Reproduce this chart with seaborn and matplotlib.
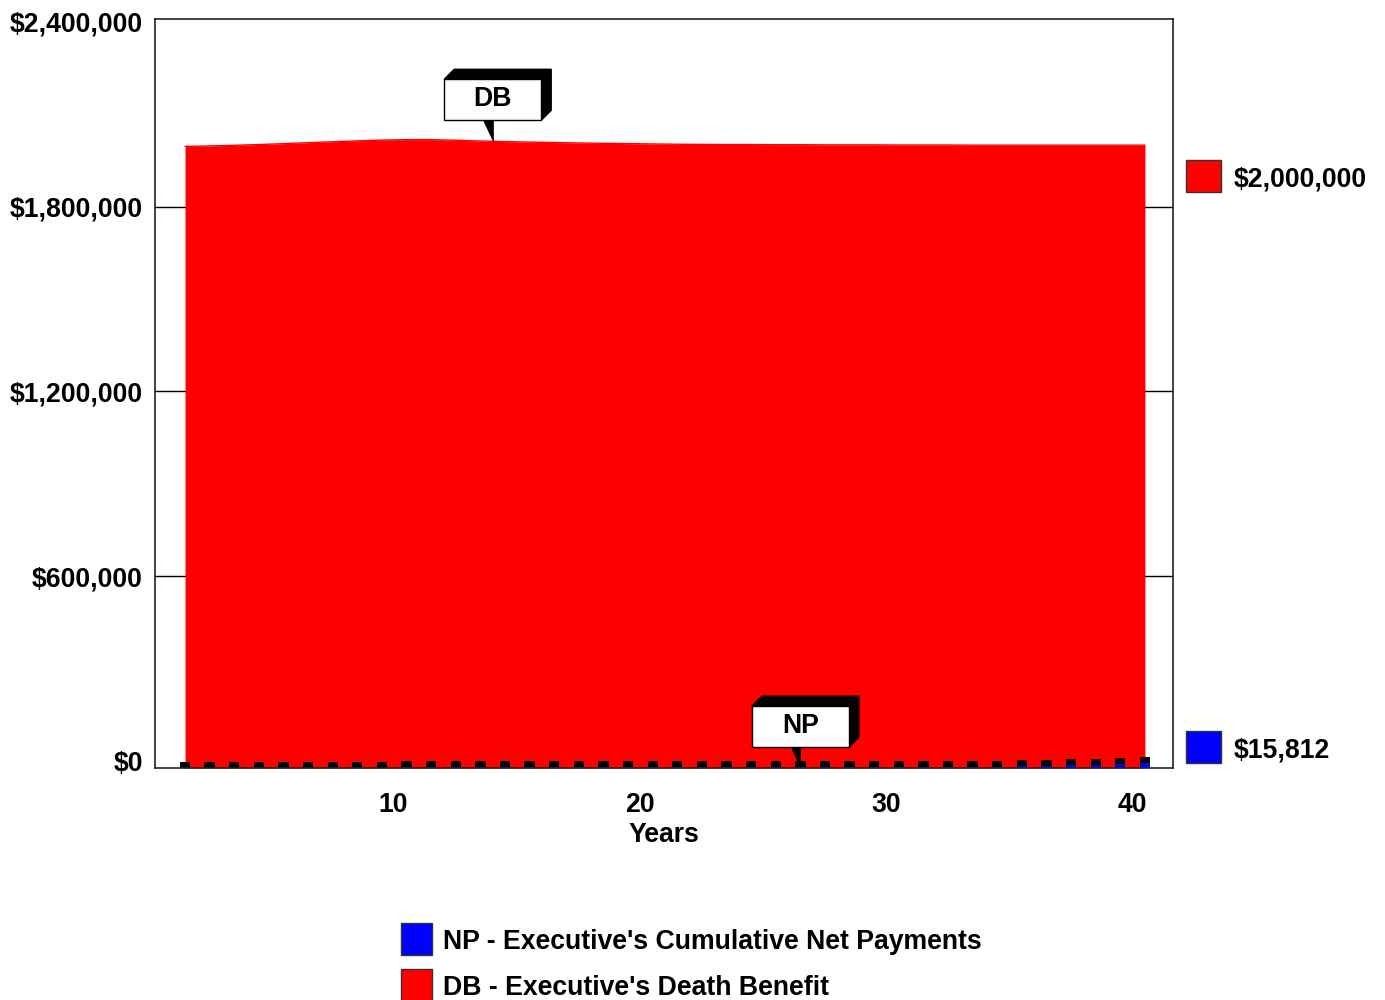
import matplotlib
matplotlib.use("Agg")
import matplotlib.pyplot as plt
import pandas as pd
import seaborn as sns
from matplotlib.patches import Polygon, Rectangle
from matplotlib.transforms import ScaledTranslation

# ---- data -------------------------------------------------------------
years = list(range(1, 41))

db_values = [
    1996000, 1997500, 1999500, 2002000, 2005000, 2008000, 2011000, 2014000,
    2016500, 2018000, 2018000, 2016000, 2013500, 2011500, 2010000, 2008500,
    2007000, 2006000, 2005000, 2004000, 2003000, 2002500, 2002000, 2002000,
    2001500, 2001500, 2001000, 2001000, 2001000, 2000500, 2000500, 2000500,
    2000000, 2000000, 2000000, 2000000, 2000000, 2000000, 2000000, 2000000,
]

np_values = [
    300, 550, 800, 1000, 1150, 1300, 1400, 1500, 1600, 1700,
    1750, 1800, 1850, 1900, 1950, 2000, 2050, 2100, 2150, 2200,
    2250, 2300, 2350, 2400, 2450, 2500, 2600, 2700, 2850, 3000,
    3250, 3600, 4100, 4800, 5700, 6900, 8400, 10300, 12800, 15812,
]

y_ticks = [0, 600000, 1200000, 1800000, 2400000]
x_ticks = [10, 20, 30, 40]
legend_labels = ["NP - Executive's Cumulative Net Payments",
                 "DB - Executive's Death Benefit"]
end_labels = ["$2,000,000", "$15,812"]
callout_years = {"DB": 13.5, "NP": 26}

# ---- style ------------------------------------------------------------
sns.set_theme(style="white")
plt.rcParams["font.family"] = ["Liberation Sans", "DejaVu Sans"]
plt.rcParams["font.weight"] = "bold"
plt.rcParams["text.color"] = "black"
plt.rcParams["xtick.color"] = "black"
plt.rcParams["ytick.color"] = "black"

RED = "#ff0000"
BLUE = "#0000ff"
FS = 19.2
W, H = 1385, 1000

fig = plt.figure(figsize=(W / 100, H / 100), dpi=100)
ax = fig.add_axes([155 / W, 1 - 768 / H, (1173 - 155) / W, (768 - 19) / H])

Y_FLOOR, Y_TOP = -22700, 2409700
ax.set_xlim(-0.22, 41.14)
ax.set_ylim(Y_FLOOR, Y_TOP)
units_per_px = (Y_TOP - Y_FLOOR) / (768 - 19)

df = pd.DataFrame({"Year": years, "DB": db_values, "NP": np_values})

# horizontal grid on the back wall
for t in y_ticks[1:-1]:
    ax.axhline(t, color="black", lw=1, zorder=1)

# death benefit area
ax.fill_between(df["Year"], df["DB"], Y_FLOOR, color=RED, lw=0, zorder=2)
sns.lineplot(data=df, x="Year", y="DB", color=RED, lw=1, ax=ax, zorder=3,
             legend=False)

# net payment bars with a dark 3D cap
cap = 6 * units_per_px
ax.bar(df["Year"], df["NP"], bottom=Y_FLOOR, width=0.42, color=BLUE,
       lw=0, zorder=4)
ax.bar(df["Year"], [cap] * len(df), bottom=Y_FLOOR + df["NP"], width=0.42,
       color="black", lw=0, zorder=4)

# axes cosmetics
ax.set_yticks(y_ticks)
ax.set_yticklabels([f"${v:,.0f}" for v in y_ticks])
ax.set_xticks(x_ticks)
ax.set_xticklabels([str(v) for v in x_ticks])
ax.tick_params(axis="y", length=0, pad=8.6, labelsize=FS)
ax.tick_params(axis="x", length=0, pad=17, labelsize=FS)
for lab in ax.get_xticklabels() + ax.get_yticklabels():
    lab.set_fontweight("bold")
    lab.set_color("black")
# the category labels sit on the front plane, a little left of the wall
front_shift = ScaledTranslation(-0.13, 0, fig.dpi_scale_trans)
for lab in ax.get_xticklabels():
    lab.set_transform(lab.get_transform() + front_shift)
ax.set_xlabel("")
ax.set_ylabel("")
for sp in ax.spines.values():
    sp.set_visible(True)
    sp.set_color("#222222")
    sp.set_linewidth(1.2)
    sp.set_zorder(5)


def fig_label(x, y, s, ha="left"):
    fig.text(x / W, 1 - y / H, s, ha=ha, va="center", fontsize=FS,
             fontweight="bold", color="black")


fig_label(664, 835, "Years", ha="center")


# callout boxes with a pointer to the series
def callout(x, y, text, rise, w=0.485, h=0.41, d=0.10):
    tr = fig.dpi_scale_trans + ScaledTranslation(x, y, ax.transData)
    b, t = rise, rise + h
    shadow = Polygon([(-w, t), (-w + d, t + d), (w + d, t + d), (w + d, b + d),
                      (w, b), (w, t)], closed=True, fc="black", ec="black",
                     lw=1, transform=tr, zorder=6, clip_on=False)
    box = Rectangle((-w, b), 2 * w, h, fc="white", ec="black", lw=1,
                    transform=tr, zorder=7, clip_on=False)
    pointer = Polygon([(-0.095, b + 0.005), (0.0, b + 0.005), (0.0, 0.0)],
                      closed=True, fc="black", ec="black", lw=0.5,
                      transform=tr, zorder=7, clip_on=False)
    for p in (shadow, box, pointer):
        ax.add_patch(p)
    ax.text(0, b + h / 2 + 0.01, text, transform=tr, ha="center",
            va="center", fontsize=FS, fontweight="bold", color="black",
            zorder=8)


db_x = callout_years["DB"]
db_y = pd.Series(db_values, index=years).reindex(
    sorted(set(years) | {db_x})).interpolate(method="index")[db_x]
callout(db_x, db_y, "DB", rise=0.21)

np_x = callout_years["NP"]
callout(np_x, Y_FLOOR + np_values[years.index(np_x)], "NP", rise=0.20)


# legend swatches drawn in figure pixels
def swatch(x0, y0, x1, y1, color):
    fig.add_artist(Rectangle((x0 / W, 1 - y1 / H), (x1 - x0) / W,
                             (y1 - y0) / H, transform=fig.transFigure,
                             fc=color, ec="#333333", lw=1))


swatch(1186, 160, 1221, 192, RED)
fig_label(1234, 180, end_labels[0])
swatch(1186, 731, 1221, 763, BLUE)
fig_label(1234, 751, end_labels[1])

swatch(401, 923, 432, 955, BLUE)
fig_label(443, 942, legend_labels[0])
swatch(401, 969, 432, 1001, RED)
fig_label(443, 988, legend_labels[1])

fig.savefig("out.png", dpi=100)
